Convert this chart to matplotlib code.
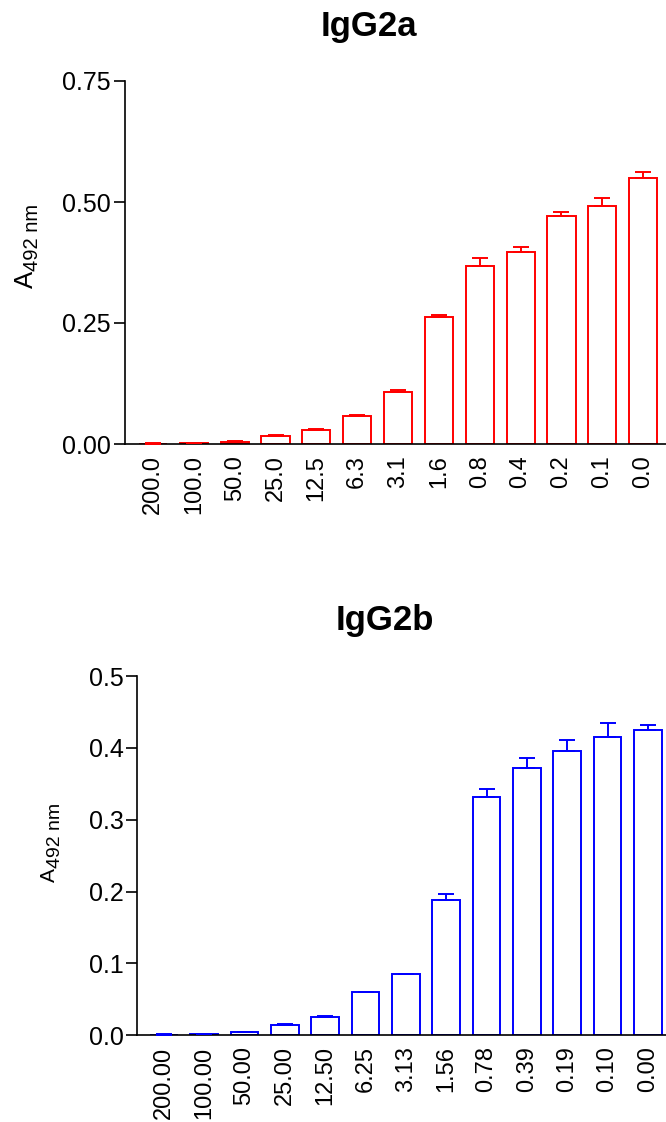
import matplotlib
matplotlib.use('Agg')
import matplotlib.pyplot as plt
import numpy as np

plt.rcParams['font.family'] = ['Liberation Sans', 'DejaVu Sans']

# IgG2a data
labels_a = ['200.0', '100.0', '50.0', '25.0', '12.5', '6.3', '3.1',
            '1.6', '0.8', '0.4', '0.2', '0.1', '0.0']
mean_a = [0.001, 0.002, 0.005, 0.017, 0.029, 0.058, 0.107,
          0.263, 0.368, 0.397, 0.471, 0.491, 0.550]
err_a = [0.0005, 0.001, 0.001, 0.001, 0.003, 0.002, 0.004,
         0.003, 0.017, 0.011, 0.009, 0.018, 0.011]

# IgG2b data
labels_b = ['200.00', '100.00', '50.00', '25.00', '12.50', '6.25', '3.13',
            '1.56', '0.78', '0.39', '0.19', '0.10', '0.00']
mean_b = [0.001, 0.0015, 0.004, 0.0147, 0.0256, 0.0605, 0.0848,
          0.1885, 0.331, 0.3725, 0.3957, 0.415, 0.4246]
err_b = [0.0003, 0.0003, 0.0005, 0.0013, 0.0014, 0.0, 0.0008,
         0.008, 0.0116, 0.0135, 0.0153, 0.019, 0.0074]

W, H = 666, 1122
fig = plt.figure(figsize=(W/100, H/100), dpi=100)


def ylab(a_pos, a_size, sub_dx, sub_size):
    # "A" with a subscript "492 nm", rotated; sub starts right after the A
    fig.text(a_pos[0]/W, 1-a_pos[1]/H, 'A', fontsize=a_size, rotation=90,
             rotation_mode='anchor', ha='left', va='baseline')
    aw = 0.667*a_size*100/72
    fig.text((a_pos[0]+sub_dx)/W, 1-(a_pos[1]-aw)/H, '492 nm', fontsize=sub_size,
             rotation=90, rotation_mode='anchor', ha='left', va='baseline')


def panel(rect, labels, mean, err, color, ylim, yticks, ytl, xlim, title, tpos):
    ax = fig.add_axes(rect)
    x = np.arange(len(labels))
    ax.bar(x, mean, width=0.69, color='white', edgecolor=color, linewidth=1.4, zorder=2)
    ax.errorbar(x, mean, yerr=[np.zeros(len(err)), err], fmt='none', ecolor=color,
                elinewidth=1.4, capsize=5.5, capthick=1.4, zorder=3)
    ax.set_xlim(*xlim)
    ax.set_ylim(*ylim)
    ax.set_yticks(yticks)
    ax.set_yticklabels(ytl, fontsize=18)
    ax.set_xticks(x)
    ax.set_xticklabels(labels, rotation=90, fontsize=17)
    ax.tick_params(axis='x', length=0, pad=8)
    ax.tick_params(axis='y', length=8, width=1.2, pad=2)
    for s in ['top', 'right']:
        ax.spines[s].set_visible(False)
    for s in ['left', 'bottom']:
        ax.spines[s].set_linewidth(1.2)
    fig.text(tpos[0]/W, 1-tpos[1]/H, title, fontsize=25, fontweight='bold',
             ha='center', va='baseline')
    return ax


panel([125/W, 1-444/H, 1-125/W, (444-81)/H], labels_a, mean_a, err_a, 'red',
      (0, 0.75), [0, 0.25, 0.5, 0.75], ['0.00', '0.25', '0.50', '0.75'],
      (-0.686, 12.56), 'IgG2a', (369, 36))
ylab((33, 288), 18.5, 4.5, 14.5)

panel([137.3/W, 1-1035.3/H, 1-137.3/W, (1035.3-676)/H], labels_b, mean_b, err_b, 'blue',
      (0, 0.5), [0, 0.1, 0.2, 0.3, 0.4, 0.5], ['0.0', '0.1', '0.2', '0.3', '0.4', '0.5'],
      (-0.66, 12.45), 'IgG2b', (385, 630))
ylab((55, 882), 15, 5, 14)

fig.savefig('out.png', dpi=100)
